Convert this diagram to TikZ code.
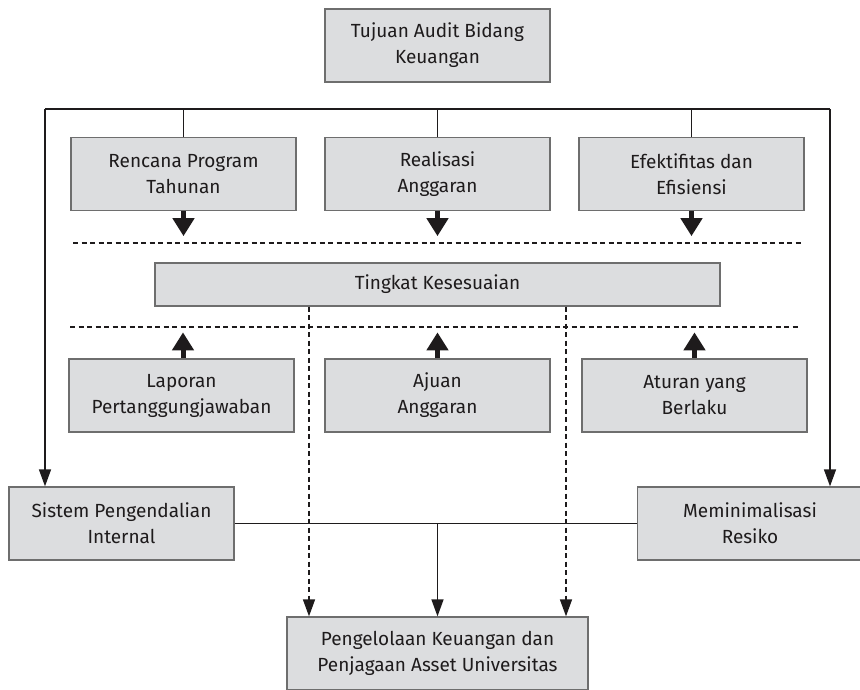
\documentclass[tikz,border=0pt]{standalone}
\usepackage{fontspec}
\setmainfont{Fira Sans}
\usetikzlibrary{arrows.meta,calc}
\definecolor{boxfill}{HTML}{DCDDDF}
\definecolor{boxline}{HTML}{6E6E6E}
\definecolor{ink}{HTML}{1E1B1C}
\begin{document}
\begin{tikzpicture}[x=1pt,y=-1pt,
  box/.style={draw=boxline, line width=1.3pt, fill=boxfill, minimum width=225pt, minimum height=73pt,
    align=center, text=ink, font=\fontsize{19}{26}\selectfont, inner sep=0pt},
  conn/.style={draw=ink, line width=1.5pt},
  thinarrow/.style={conn, -{Triangle[width=12pt,length=17pt]}},
  fatarrow/.style={draw=ink, line width=5pt, -{Triangle[width=21pt,length=18pt]}},
  dline/.style={draw=ink, line width=1.5pt, dash pattern=on 5pt off 3.5pt},
  darrow/.style={dline, -{Triangle[width=12pt,length=17pt]}}
]
\useasboundingbox (0,0) rectangle (860,689);

% nodes
\node[box] (top) at (437.5,45.5) {Tujuan Audit Bidang\\Keuangan};
\node[box] (rp)  at (183.5,174) {Rencana Program\\Tahunan};
\node[box] (ra)  at (437.5,174) {Realisasi\\Anggaran};
\node[box] (ef)  at (691.5,174) {Efektifitas dan\\Efisiensi};
\node[box, minimum width=565pt, minimum height=43pt] (tk) at (437.5,284.5) {Tingkat Kesesuaian};
\node[box] (lap) at (181.5,395.5) {Laporan\\Pertanggungjawaban};
\node[box] (aj)  at (437.5,395.5) {Ajuan\\Anggaran};
\node[box] (at)  at (694.5,395.5) {Aturan yang\\Berlaku};
\node[box] (sis) at (121.5,523.5) {Sistem Pengendalian\\Internal};
\node[box] (mem) at (750,523.5) {Meminimalisasi\\Resiko};
\node[box, minimum width=301pt] (pk) at (437.5,653.5) {Pengelolaan Keuangan dan\\Penjagaan Asset Universitas};

% coordinates
\coordinate (L) at (45,109);
\coordinate (R) at (830,109);
\coordinate (d1) at (309,0);
\coordinate (d2) at (566,0);
\coordinate (dl1a) at (73,243);
\coordinate (dl1b) at (803,243);
\coordinate (dl2a) at (70,327);
\coordinate (dl2b) at (800,327);

% top bus
\draw[conn] (L) -- (R);
\draw[conn] (rp.north) -- (rp.north |- L);
\draw[conn] (ra.north) -- (ra.north |- L);
\draw[conn] (ef.north) -- (ef.north |- L);
\draw[thinarrow] (L) -- (sis.north -| L);
\draw[thinarrow] (R) -- (mem.north -| R);

% fat arrows
\draw[fatarrow] (rp.south) -- ++(0,25);
\draw[fatarrow] (ra.south) -- ++(0,25);
\draw[fatarrow] (ef.south) -- ++(0,25);
\draw[fatarrow] ($(lap.north)+(1.5,0)$) -- ++(0,-26);
\draw[fatarrow] (aj.north) -- ++(0,-26);
\draw[fatarrow] (at.north) -- ++(0,-26);

% dashed separators
\draw[dline] (dl1a) -- (dl1b);
\draw[dline] (dl2a) -- (dl2b);

% dashed verticals
\draw[darrow] (tk.south -| d1) -- (pk.north -| d1);
\draw[darrow] (tk.south -| d2) -- (pk.north -| d2);

% bottom connection
\draw[conn] (sis.east) -- (mem.west);
\draw[thinarrow] (sis.east -| pk.north) -- (pk.north);
\end{tikzpicture}
\end{document}
